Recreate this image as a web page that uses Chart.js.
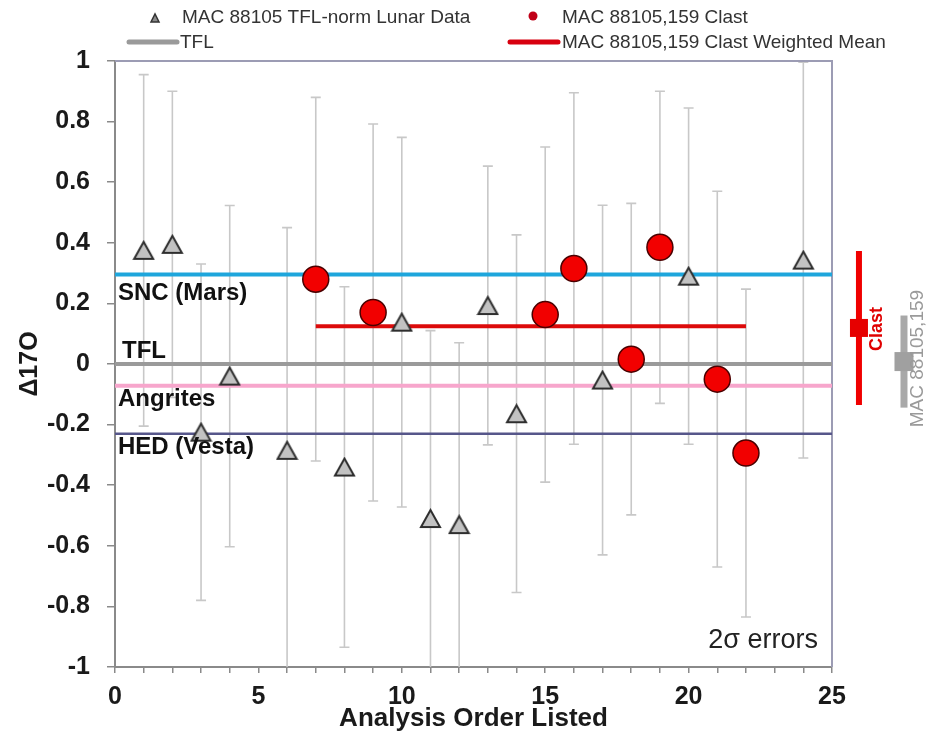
<!DOCTYPE html>
<html>
<head>
<meta charset="utf-8">
<script src="https://cdn.jsdelivr.net/npm/chart.js@4.4.1/dist/chart.umd.min.js"></script>
<style>
  html, body { margin: 0; padding: 0; background: #ffffff; }
  #wrap { width: 935px; height: 751px; position: relative; }
</style>
</head>
<body>
<div id="wrap"><canvas id="c" width="935" height="751"></canvas></div>
<script>
// ---------- DATA ----------
const lunarX   = [1, 2, 3, 4, 6, 8, 10, 11, 12, 13, 14, 17, 20, 24];
const lunarY   = [0.375, 0.395, -0.225, -0.04, -0.285, -0.34, 0.138, -0.51, -0.53, 0.193, -0.164, -0.053, 0.29, 0.343];
const lunarErr = [0.58, 0.505, 0.555, 0.563, 0.735, 0.595, 0.61, 0.62, 0.60, 0.46, 0.59, 0.577, 0.555, 0.653];

const clastX   = [7, 9, 15, 16, 18, 19, 21, 22];
const clastY   = [0.28, 0.17, 0.163, 0.315, 0.016, 0.385, -0.05, -0.294];
const clastErr = [0.60, 0.622, 0.553, 0.58, 0.514, 0.515, 0.62, 0.541];

const sncLevel = 0.295;      // SNC (Mars)
const tflLevel = 0;          // TFL
const angriteLevel = -0.072; // Angrites
const hedLevel = -0.23;      // HED (Vesta)

const meanRangeX = [7, 22];
const clastMean = 0.125;

// summary markers at right (outside the plot)
const summaryX = [25.94, 27.51];
const summaryY = [0.119, 0.008];
const summaryErr = [0.254, 0.152];
const summaryLabels = ['Clast', 'MAC 88105,159'];

const xTicks = [0, 5, 10, 15, 20, 25];
const yMin = -1, yMax = 1, yStep = 0.2;
// ---------------------------

const pts = (xs, ys) => xs.map((x, i) => ({ x: x, y: ys[i] }));
const hline = (x0, x1, v) => [{ x: x0, y: v }, { x: x1, y: v }];

// triangle marker image (bbox-centred like the source)
function triangleImage(w, h, fill, stroke, lw) {
  const c = document.createElement('canvas');
  c.width = w + 4; c.height = h + 4;
  const g = c.getContext('2d');
  g.beginPath();
  g.moveTo(2, h + 2);
  g.lineTo(w + 2, h + 2);
  g.lineTo(w / 2 + 2, 2);
  g.closePath();
  g.fillStyle = fill; g.fill();
  g.lineWidth = lw; g.strokeStyle = stroke; g.lineJoin = 'miter'; g.stroke();
  return c;
}
const triImg = triangleImage(19, 17, '#c2c2c2', '#2e2e2e', 2);

const errorBarPlugin = {
  id: 'errorBars',
  beforeDatasetsDraw(chart) {
    const { ctx, chartArea, scales: { x, y } } = chart;
    chart.data.datasets.forEach((ds) => {
      if (!ds.errors) return;
      ctx.save();
      if (ds.errClip) {
        ctx.beginPath();
        ctx.rect(chartArea.left, chartArea.top, chartArea.right - chartArea.left, chartArea.bottom - chartArea.top);
        ctx.clip();
      }
      ctx.strokeStyle = ds.errColor;
      ctx.lineWidth = ds.errWidth;
      ds.data.forEach((p, j) => {
        const e = ds.errors[j];
        const px = x.getPixelForValue(p.x);
        const top = y.getPixelForValue(p.y + e);
        const bot = y.getPixelForValue(p.y - e);
        ctx.beginPath();
        ctx.moveTo(px, top); ctx.lineTo(px, bot);
        if (ds.errCap) {
          ctx.moveTo(px - ds.errCap, top); ctx.lineTo(px + ds.errCap, top);
          ctx.moveTo(px - ds.errCap, bot); ctx.lineTo(px + ds.errCap, bot);
        }
        ctx.stroke();
      });
      ctx.restore();
    });
  }
};

const decorPlugin = {
  id: 'decor',
  beforeDatasetsDraw(chart) {
    const { ctx, chartArea: a } = chart;
    ctx.save();
    ctx.strokeStyle = '#9c9cb4';
    ctx.lineWidth = 2;
    ctx.beginPath();
    ctx.moveTo(a.left, a.top); ctx.lineTo(a.right, a.top); ctx.lineTo(a.right, a.bottom);
    ctx.stroke();
    ctx.restore();
  },
  afterDatasetsDraw(chart) {
    const { ctx, chartArea: a, scales: { x, y } } = chart;
    ctx.save();

    // summary square markers (outside the plot area, placed through the scales)
    chart.data.datasets.forEach((ds) => {
      if (!ds.summarySquare) return;
      ds.data.forEach((p) => {
        const px = x.getPixelForValue(p.x), py = y.getPixelForValue(p.y);
        const s = ds.summarySquare;
        ctx.fillStyle = ds.backgroundColor;
        ctx.fillRect(px - s / 2, py - s / 2, s, s);
      });
    });

    // reference line labels
    ctx.fillStyle = '#111';
    ctx.font = 'bold 24px "Liberation Sans", Arial, sans-serif';
    ctx.textAlign = 'left';
    ctx.textBaseline = 'alphabetic';
    const lx = a.left + 3;
    ctx.fillText('SNC (Mars)', lx, y.getPixelForValue(sncLevel) + 25);
    ctx.fillText('TFL', lx + 4, y.getPixelForValue(tflLevel) - 6);
    ctx.fillText('Angrites', lx, y.getPixelForValue(angriteLevel) + 20);
    ctx.fillText('HED (Vesta)', lx, y.getPixelForValue(hedLevel) + 20);

    // 2 sigma note
    ctx.font = '27px "Liberation Sans", Arial, sans-serif';
    ctx.fillStyle = '#222';
    ctx.textAlign = 'right';
    ctx.fillText('2\u03c3 errors', a.right - 14, a.bottom - 19);

    // rotated labels beside summary bars
    const rx = x.getPixelForValue(summaryX[0]);
    ctx.save();
    ctx.translate(rx + 18, y.getPixelForValue(summaryY[0]) + 1);
    ctx.rotate(-Math.PI / 2);
    ctx.font = 'bold 18px "Liberation Sans", Arial, sans-serif';
    ctx.fillStyle = '#e00000';
    ctx.textAlign = 'center';
    ctx.textBaseline = 'middle';
    ctx.fillText(summaryLabels[0], 0, 0);
    ctx.restore();

    const gx = x.getPixelForValue(summaryX[1]);
    ctx.save();
    ctx.translate(gx + 14, y.getPixelForValue(summaryY[1]) - 3);
    ctx.rotate(-Math.PI / 2);
    ctx.font = '19px "Liberation Sans", Arial, sans-serif';
    ctx.fillStyle = '#9a9a9a';
    ctx.textAlign = 'center';
    ctx.textBaseline = 'middle';
    ctx.fillText(summaryLabels[1], 0, 0);
    ctx.restore();

    // legend
    ctx.font = '19px "Liberation Sans", Arial, sans-serif';
    ctx.fillStyle = '#333';
    ctx.textAlign = 'left';
    ctx.textBaseline = 'middle';
    ctx.beginPath();
    ctx.moveTo(151, 22); ctx.lineTo(159, 22); ctx.lineTo(155, 14); ctx.closePath();
    ctx.fillStyle = '#8a8a8a'; ctx.fill();
    ctx.strokeStyle = '#333'; ctx.lineWidth = 1.5; ctx.stroke();
    ctx.fillStyle = '#333';
    ctx.fillText('MAC 88105 TFL-norm Lunar Data', 182, 18);
    ctx.beginPath(); ctx.arc(533, 16, 4.5, 0, Math.PI * 2);
    ctx.fillStyle = '#c00018'; ctx.fill();
    ctx.fillStyle = '#333';
    ctx.fillText('MAC 88105,159 Clast', 562, 18);
    ctx.lineCap = 'round';
    ctx.lineWidth = 5;
    ctx.strokeStyle = '#9a9a9a';
    ctx.beginPath(); ctx.moveTo(129, 42); ctx.lineTo(177, 42); ctx.stroke();
    ctx.fillText('TFL', 180, 43);
    ctx.strokeStyle = '#d8000f';
    ctx.beginPath(); ctx.moveTo(510, 42); ctx.lineTo(558, 42); ctx.stroke();
    ctx.fillText('MAC 88105,159 Clast Weighted Mean', 562, 43);
    ctx.restore();
  }
};

const lunarData = pts(lunarX, lunarY);
const clastData = pts(clastX, clastY);

new Chart(document.getElementById('c'), {
  type: 'scatter',
  data: {
    datasets: [
      { label: 'MAC 88105,159 Clast', data: clastData, order: 0,
        pointStyle: 'circle', pointRadius: 13, pointHoverRadius: 13,
        backgroundColor: '#f20000', borderColor: '#4a0000', borderWidth: 1.5,
        errors: clastErr, errColor: '#c8c8c8', errWidth: 1.6, errCap: 5, errClip: true },
      { label: 'MAC 88105 TFL-norm Lunar Data', data: lunarData, order: 1,
        pointStyle: triImg, pointRadius: 10, pointHoverRadius: 10,
        backgroundColor: '#c2c2c2', borderColor: '#2e2e2e', borderWidth: 2,
        errors: lunarErr, errColor: '#c8c8c8', errWidth: 1.6, errCap: 5, errClip: true },
      { label: 'Clast summary', data: [{ x: summaryX[0], y: summaryY[0] }], order: 2, clip: false,
        pointRadius: 0, backgroundColor: '#e60000', summarySquare: 18,
        errors: [summaryErr[0]], errColor: '#f00000', errWidth: 6, errCap: 0, errClip: false },
      { label: 'Lunar summary', data: [{ x: summaryX[1], y: summaryY[1] }], order: 3, clip: false,
        pointRadius: 0, backgroundColor: '#a0a0a0', summarySquare: 19,
        errors: [summaryErr[1]], errColor: '#a8a8a8', errWidth: 7, errCap: 0, errClip: false },
      { label: 'MAC 88105,159 Clast Weighted Mean', data: hline(meanRangeX[0], meanRangeX[1], clastMean), order: 4,
        showLine: true, pointRadius: 0, borderColor: '#dc0a0a', borderWidth: 4 },
      { label: 'SNC (Mars)', data: hline(0, 25, sncLevel), order: 5,
        showLine: true, pointRadius: 0, borderColor: '#1ea6dc', borderWidth: 4 },
      { label: 'TFL', data: hline(0, 25, tflLevel), order: 6,
        showLine: true, pointRadius: 0, borderColor: '#9a9a9a', borderWidth: 4 },
      { label: 'Angrites', data: hline(0, 25, angriteLevel), order: 7,
        showLine: true, pointRadius: 0, borderColor: '#f7a6cc', borderWidth: 4 },
      { label: 'HED (Vesta)', data: hline(0, 25, hedLevel), order: 8,
        showLine: true, pointRadius: 0, borderColor: '#56568a', borderWidth: 2.5 }
    ]
  },
  options: {
    responsive: false,
    devicePixelRatio: 1,
    animation: false,
    events: [],
    layout: { padding: { top: 61, right: 103, left: 0, bottom: 0 } },
    plugins: {
      legend: { display: false },
      tooltip: { enabled: false },
      title: { display: false }
    },
    scales: {
      x: {
        type: 'linear', min: 0, max: 25,
        afterFit: (s) => { s.height = 84; },
        ticks: {
          stepSize: 1, autoSkip: false, maxRotation: 0, padding: 9,
          color: '#1a1a1a',
          font: { family: '"Liberation Sans", Arial, sans-serif', size: 25, weight: 'bold' },
          callback: (v) => (xTicks.includes(v) ? String(v) : '')
        },
        grid: { drawOnChartArea: false, drawTicks: true, tickLength: 6, color: '#8a8a8a', lineWidth: 1.5 },
        border: { display: true, color: '#8a8a8a', width: 2 },
        title: {
          display: true, text: 'Analysis Order Listed', color: '#1a1a1a',
          font: { family: '"Liberation Sans", Arial, sans-serif', size: 26, weight: 'bold' },
          padding: { top: 0, bottom: 17 }
        }
      },
      y: {
        type: 'linear', min: yMin, max: yMax,
        afterFit: (s) => { s.width = 115; },
        ticks: {
          stepSize: yStep, padding: 17, color: '#1a1a1a',
          font: { family: '"Liberation Sans", Arial, sans-serif', size: 25, weight: 'bold' },
          callback: (v) => { const r = Math.round(v * 10) / 10; return r === 0 ? '0' : String(r); }
        },
        grid: { drawOnChartArea: false, drawTicks: true, tickLength: 8, color: '#8a8a8a', lineWidth: 1.5 },
        border: { display: true, color: '#8a8a8a', width: 2 },
        title: {
          display: true, text: '\u039417O', color: '#1a1a1a',
          font: { family: '"Liberation Sans", Arial, sans-serif', size: 25, weight: 'bold' },
          padding: { top: 15, bottom: 0 }
        }
      }
    }
  },
  plugins: [errorBarPlugin, decorPlugin]
});
</script>
</body>
</html>
